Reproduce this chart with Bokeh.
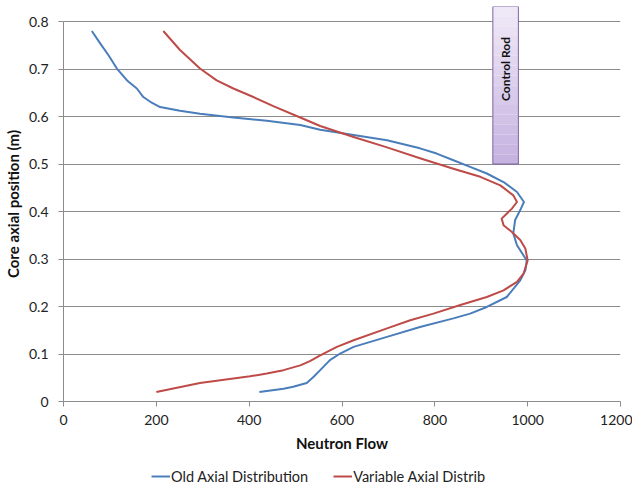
import numpy as np
from bokeh.plotting import figure
from bokeh.layouts import column
from bokeh.models import FixedTicker, Legend, LegendItem
from bokeh.core.properties import value
from bokeh.embed import file_html
from bokeh.resources import INLINE

# ---- data ----
old_x = [61, 79, 97, 115, 137, 158, 172, 187, 208, 251, 294, 366, 438, 510, 553,
         625, 697, 768, 804, 840, 876, 912, 948, 977, 992, 984, 973, 969, 977,
         998, 995, 984, 955, 912, 876, 840, 768, 697, 625, 596, 574, 553,
         539, 524, 495, 474, 422]
old_y = [0.780, 0.754, 0.729, 0.701, 0.676, 0.659, 0.641, 0.631, 0.620, 0.612, 0.606, 0.598, 0.591, 0.582, 0.572,
         0.561, 0.550, 0.533, 0.522, 0.508, 0.494, 0.480, 0.462, 0.441, 0.420, 0.403, 0.382, 0.354, 0.329,
         0.297, 0.276, 0.255, 0.220, 0.199, 0.185, 0.175, 0.157, 0.136, 0.115, 0.101, 0.087, 0.066,
         0.052, 0.039, 0.031, 0.027, 0.020]

var_x = [215, 251, 294, 330, 366, 409, 452, 510, 553,
         625, 697, 768, 840, 898, 941, 969, 977, 966, 944, 948, 966, 984, 995,
         1000, 991, 977, 948, 912, 855, 797, 747, 697, 625, 589, 553,
         531, 510, 474, 438, 402, 294, 200]
var_y = [0.780, 0.740, 0.701, 0.676, 0.659, 0.641, 0.622, 0.598, 0.580,
         0.557, 0.535, 0.512, 0.490, 0.473, 0.455, 0.434, 0.420, 0.406, 0.385, 0.371, 0.357, 0.340, 0.322,
         0.297, 0.269, 0.252, 0.234, 0.220, 0.203, 0.185, 0.171, 0.154, 0.129, 0.115, 0.097,
         0.085, 0.076, 0.066, 0.059, 0.053, 0.039, 0.020]

series_names = ["Old Axial Distribution", "Variable Axial Distrib"]

x_ticks = [0, 200, 400, 600, 800, 1000, 1200]
y_ticks = [0, 0.1, 0.2, 0.3, 0.4, 0.5, 0.6, 0.7, 0.8]

rod_x0, rod_x1 = 925, 980
rod_y0, rod_y1 = 0.5, 0.8316
rod_label = "Control Rod"
rod_label_y = 0.70

FONT = "Lato"
BLUE = "#4a7ebb"
RED = "#be4b48"
GRAY = "#8c8c8c"

p = figure(width=632, height=458, output_backend="svg", toolbar_location=None,
           x_range=(0, 1200), y_range=(0, rod_y1),
           min_border_left=63, min_border_right=12, min_border_top=6, min_border_bottom=57)
p.outline_line_color = None
p.xgrid.visible = False
p.ygrid.ticker = FixedTicker(ticks=y_ticks)
p.ygrid.grid_line_color = GRAY
p.ygrid.grid_line_width = 1

for ax in (p.xaxis[0], p.yaxis[0]):
    ax.axis_line_color = GRAY
    ax.major_tick_line_color = GRAY
    ax.major_tick_out = 5
    ax.major_tick_in = 0
    ax.minor_tick_line_color = None
    ax.major_label_text_font = FONT
    ax.major_label_text_font_size = "14px"
    ax.major_label_text_color = "#222222"
    ax.axis_label_text_font = FONT
    ax.axis_label_text_font_style = "bold"
    ax.axis_label_text_font_size = "15px"
    ax.axis_label_text_color = "#111111"

p.xaxis.ticker = FixedTicker(ticks=x_ticks)
p.yaxis.ticker = FixedTicker(ticks=y_ticks)
p.yaxis.bounds = (0, 0.8)
p.xaxis.axis_label = "Neutron Flow"
p.yaxis.axis_label = "Core axial position (m)"
p.xaxis.major_label_standoff = 8
p.yaxis.major_label_standoff = 10
p.xaxis.axis_label_standoff = 6
p.yaxis.axis_label_standoff = 4
p.yaxis.major_label_overrides = {0: "0"}

# control rod with vertical gradient
n = 16
edges = np.linspace(rod_y1, rod_y0, n + 1)
c_top = np.array([0xf1, 0xeb, 0xf8])
c_bot = np.array([0xc5, 0xb2, 0xe0])
cols = []
for i in range(n):
    t = (i + 0.5) / n
    c = (c_top * (1 - t) + c_bot * t).astype(int)
    cols.append("#%02x%02x%02x" % tuple(c))
p.quad(left=[rod_x0] * n, right=[rod_x1] * n, top=edges[:-1], bottom=edges[1:],
       fill_color=cols, line_color=None)
p.quad(left=[rod_x0], right=[rod_x1], top=[rod_y1], bottom=[rod_y0],
       fill_color=None, line_color="#8064a2", line_width=1)
p.text(x=[(rod_x0 + rod_x1) / 2], y=[rod_label_y], text=[rod_label], angle=np.pi / 2,
       text_font=value(FONT), text_font_style="bold", text_font_size="12px",
       text_align="center", text_baseline="middle", text_color="#111111")

p.line(old_x, old_y, line_color=BLUE, line_width=2, line_join="round")
p.line(var_x, var_y, line_color=RED, line_width=2, line_join="round")

# legend strip below the chart (frame aligned with the chart's frame)
lg = figure(width=632, height=32, output_backend="svg", toolbar_location=None,
            x_range=(0, 1), y_range=(0, 1), min_border=0)
lg.axis.visible = False
lg.grid.visible = False
lg.outline_line_color = None
d_old = lg.line([-5, -4], [-5, -4], line_color=BLUE, line_width=2)
d_var = lg.line([-5, -4], [-5, -4], line_color=RED, line_width=2)
legend = Legend(items=[LegendItem(label=series_names[0], renderers=[d_old]),
                       LegendItem(label=series_names[1], renderers=[d_var])],
                orientation="horizontal", location=(88, 4))
legend.label_text_font = FONT
legend.label_text_font_size = "14.5px"
legend.label_text_color = "#222222"
legend.glyph_width = 19
legend.label_standoff = 1
legend.spacing = 25
legend.border_line_color = None
legend.background_fill_alpha = 0
legend.margin = 0
legend.padding = 0
lg.add_layout(legend)

layout = column(p, lg, spacing=0)
open("out.html", "w").write(file_html(layout, INLINE))
